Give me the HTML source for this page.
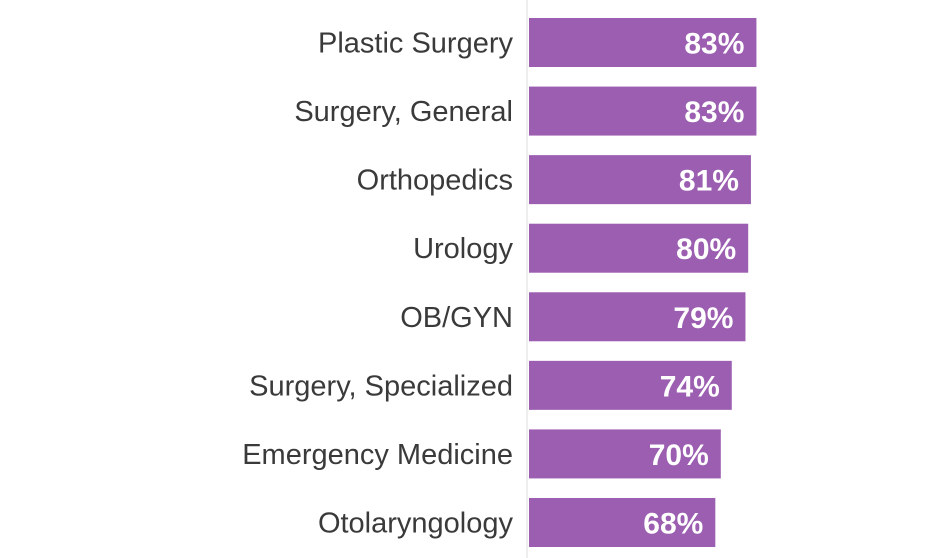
<!DOCTYPE html>
<html><head><meta charset="utf-8"><style>
html,body{margin:0;padding:0;background:#fff;}
svg{display:block;}
</style></head><body>
<svg width="940" height="558" viewBox="0 0 940 558">
<line x1="527" y1="0" x2="527" y2="558" stroke="#eeeeee" stroke-width="2"/>
<g id="bars"></g>
</svg>
<script>
const categories = ["Plastic Surgery","Surgery, General","Orthopedics","Urology","OB/GYN","Surgery, Specialized","Emergency Medicine","Otolaryngology"];
const values = [83,83,81,80,79,74,70,68];
const valueLabels = ["83%","83%","81%","80%","79%","74%","70%","68%"];

const x0 = 529, pxPer = 2.74;
const xScale = v => v * pxPer;
const y0 = 18, step = 68.57, barH = 49;
const yScale = i => y0 + i * step;
const NS = "http://www.w3.org/2000/svg";
const g = document.getElementById("bars");
categories.forEach((c, i) => {
  const y = yScale(i), w = xScale(values[i]);
  const r = document.createElementNS(NS, "rect");
  r.setAttribute("x", x0); r.setAttribute("y", y);
  r.setAttribute("width", w); r.setAttribute("height", barH);
  r.setAttribute("fill", "#9b5eb0");
  
  
  g.appendChild(r);
  const t = document.createElementNS(NS, "text");
  t.setAttribute("x", 513); t.setAttribute("y", y + barH/2 + 10);
  t.setAttribute("text-anchor", "end");
  t.setAttribute("font-family", "Liberation Sans, sans-serif");
  t.setAttribute("font-size", "29");
  t.setAttribute("fill", "#3a3a3a");
  t.textContent = c;
  
  
  g.appendChild(t);
  const v = document.createElementNS(NS, "text");
  v.setAttribute("x", x0 + w - 12); v.setAttribute("y", y + barH/2 + 11);
  v.setAttribute("text-anchor", "end");
  v.setAttribute("font-family", "Liberation Sans, sans-serif");
  v.setAttribute("font-size", "30");
  v.setAttribute("font-weight", "bold");
  v.setAttribute("fill", "#ffffff");
  v.textContent = valueLabels[i];
  
  
  g.appendChild(v);
});
</script>
</body></html>
